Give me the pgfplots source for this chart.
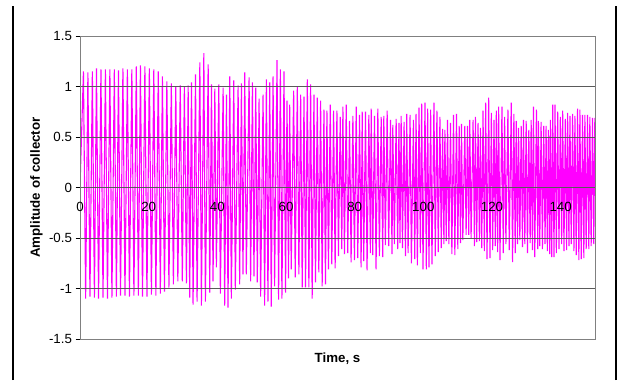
\documentclass[border=0pt]{standalone}
\usepackage{pgfplots}
\pgfplotsset{compat=1.18}
\usepackage{fontspec}
\setmainfont{Liberation Sans}
\definecolor{mag}{RGB}{255,0,255}
\definecolor{gridc}{RGB}{90,90,90}
\definecolor{framec}{RGB}{128,128,128}
\begin{document}
\begin{tikzpicture}
\begin{axis}[
  name=ax,
  width=515pt, height=303pt, scale only axis,
  xmin=0, xmax=150, ymin=-1.5, ymax=1.5,
  axis line style={framec, line width=1pt},
  axis on top=true,
  xtick={0,20,40,60,80,100,120,140},
  xticklabels={0,20,40,60,80,100,120,140},
  ytick={-1.5,-1,-0.5,0,0.5,1,1.5},
  yticklabels={-1.5,-1,-0.5,0,0.5,1,1.5},
  ytick pos=left, xtick pos=bottom,
  ymajorgrids,
  grid style={gridc, line width=1pt},
  tick align=outside,
  major tick length=4.5pt,
  y tick style={black, line width=1pt},
  x tick style={draw=none},
  /pgf/number format/assume math mode=true,
  ticklabel style={font=\fontsize{13.3}{15}\selectfont},
  xticklabel style={yshift=144.5pt},
  xlabel={Time, s},
  xlabel style={at={(axis description cs:0.5,0)}, anchor=center, yshift=-20pt, font=\bfseries\fontsize{13.3}{15}\selectfont},
  ylabel={Amplitude of collector},
  ylabel style={at={(axis description cs:0,0.5)}, anchor=center, yshift=43.5pt, font=\bfseries\fontsize{13.3}{15}\selectfont},
]
\addplot[mag, line width=1.1pt, mark=none] coordinates {
(0,0.00)
(1.0,1.15)(1.64,-1.10)
(2.3,1.14)(2.9,-1.08)
(3.6,1.15)(4.2,-1.09)
(4.8,1.18)(5.4,-1.10)
(6.1,1.17)(6.7,-1.09)
(7.4,1.17)(8.0,-1.10)
(8.7,1.17)(9.3,-1.09)
(10.0,1.17)(10.6,-1.08)
(11.2,1.16)(11.8,-1.07)
(12.5,1.18)(13.1,-1.07)
(13.8,1.17)(14.4,-1.08)
(15.1,1.17)(15.7,-1.07)
(16.4,1.20)(17.0,-1.07)
(17.6,1.21)(18.2,-1.08)
(18.9,1.20)(19.5,-1.08)
(20.2,1.18)(20.8,-1.06)
(21.5,1.17)(22.1,-1.07)
(22.8,1.15)(23.4,-1.05)
(24.0,1.10)(24.6,-1.03)
(25.3,1.05)(25.9,-0.99)
(26.6,1.03)(27.2,-0.96)
(27.9,1.00)(28.5,-0.93)
(29.2,1.01)(29.8,-0.93)
(30.4,1.00)(31.0,-0.95)
(31.5,1.01)(31.95,-1.09)
(32.48,1.04)(32.93,-1.16)
(33.65,1.12)(34.10,-1.13)
(34.91,1.24)(35.36,-1.17)
(36.07,1.33)(36.52,-1.13)
(37.33,1.22)(37.78,-1.04)
(38.30,1.02)(38.75,-0.93)
(39.27,0.98)(39.72,-0.79)
(40.43,1.02)(40.88,-1.05)
(41.69,0.99)(42.14,-1.17)
(42.66,0.92)(43.11,-1.19)
(43.63,1.10)(44.08,-1.10)
(44.79,1.06)(45.24,-1.01)
(46.05,1.01)(46.50,-0.96)
(47.02,1.03)(47.47,-0.86)
(47.99,1.14)(48.44,-0.86)
(49.25,1.09)(49.70,-0.93)
(50.22,1.04)(50.67,-0.88)
(51.19,0.99)(51.64,-0.94)
(52.16,0.88)(52.61,-1.08)
(53.32,0.92)(53.77,-1.17)
(54.29,1.07)(54.74,-1.13)
(55.26,1.04)(55.71,-1.18)
(56.23,1.10)(56.68,-0.98)
(57.39,1.26)(57.84,-1.11)
(58.36,1.17)(58.81,-1.10)
(59.42,1.15)(59.87,-1.04)
(60.29,0.86)(60.74,-0.90)
(61.07,0.82)(61.52,-0.81)
(62.23,0.96)(62.68,-0.89)
(63.30,1.00)(63.75,-0.86)
(64.27,0.92)(64.72,-0.99)
(65.24,0.90)(65.69,-0.99)
(66.21,1.07)(66.66,-0.99)
(67.17,1.02)(67.62,-1.10)
(68.14,0.92)(68.59,-0.94)
(69.11,0.89)(69.56,-0.84)
(70.08,0.86)(70.53,-0.98)
(71.05,0.77)(71.50,-0.96)
(71.92,0.76)(72.37,-0.81)
(72.89,0.82)(73.34,-0.76)
(73.86,0.76)(74.31,-0.80)
(74.83,0.76)(75.28,-0.68)
(75.80,0.70)(76.25,-0.61)
(76.57,0.80)(77.02,-0.66)
(77.54,0.82)(77.99,-0.65)
(78.51,0.66)(78.96,-0.74)
(79.48,0.71)(79.93,-0.72)
(80.45,0.80)(80.90,-0.70)
(81.42,0.72)(81.87,-0.79)
(82.19,0.75)(82.64,-0.73)
(83.16,0.75)(83.61,-0.82)
(84.13,0.72)(84.58,-0.65)
(84.81,0.78)(85.26,-0.67)
(85.78,0.71)(86.23,-0.81)
(86.75,0.78)(87.20,-0.68)
(87.72,0.70)(88.17,-0.69)
(88.49,0.71)(88.94,-0.57)
(89.46,0.76)(89.91,-0.58)
(90.43,0.67)(90.88,-0.66)
(91.11,0.62)(91.56,-0.56)
(92.08,0.68)(92.53,-0.61)
(92.90,0.64)(93.20,-0.55)
(93.53,0.71)(93.92,-0.60)
(94.40,0.65)(94.79,-0.68)
(95.17,0.73)(95.56,-0.65)
(96.14,0.72)(96.52,-0.75)
(97.11,0.67)(97.49,-0.71)
(97.88,0.73)(98.26,-0.77)
(98.75,0.79)(99.13,-0.65)
(99.52,0.83)(99.90,-0.81)
(100.49,0.84)(100.87,-0.81)
(101.26,0.78)(101.64,-0.79)
(102.13,0.77)(102.51,-0.76)
(103.09,0.84)(103.48,-0.68)
(103.96,0.76)(104.35,-0.64)
(104.83,0.70)(105.22,-0.60)
(105.61,0.58)(105.99,-0.56)
(106.28,0.57)(106.67,-0.53)
(107.05,0.67)(107.44,-0.56)
(107.92,0.64)(108.31,-0.66)
(108.79,0.72)(109.18,-0.67)
(109.66,0.73)(110.05,-0.61)
(110.44,0.61)(110.82,-0.55)
(111.11,0.63)(111.50,-0.52)
(112.08,0.61)(112.46,-0.47)
(112.85,0.61)(113.23,-0.47)
(113.53,0.67)(113.91,-0.50)
(114.49,0.67)(114.88,-0.58)
(115.17,0.70)(115.55,-0.54)
(115.94,0.64)(116.33,-0.53)
(116.62,0.59)(117.00,-0.60)
(117.39,0.76)(117.77,-0.63)
(118.16,0.84)(118.55,-0.71)
(119.03,0.89)(119.42,-0.70)
(119.81,0.74)(120.19,-0.62)
(120.58,0.67)(120.96,-0.58)
(121.26,0.76)(121.64,-0.64)
(121.93,0.80)(122.32,-0.72)
(122.90,0.80)(123.28,-0.65)
(123.67,0.70)(124.05,-0.56)
(124.64,0.77)(125.02,-0.62)
(125.60,0.84)(125.99,-0.74)
(126.37,0.73)(126.76,-0.65)
(127.05,0.66)(127.44,-0.56)
(127.73,0.59)(128.11,-0.52)
(128.50,0.61)(128.88,-0.59)
(129.18,0.67)(129.56,-0.56)
(129.95,0.66)(130.33,-0.65)
(130.72,0.57)(131.11,-0.55)
(131.40,0.67)(131.78,-0.62)
(132.07,0.80)(132.46,-0.69)
(132.94,0.77)(133.33,-0.61)
(133.52,0.66)(133.91,-0.58)
(134.30,0.65)(134.68,-0.61)
(135.07,0.61)(135.45,-0.56)
(135.75,0.61)(136.13,-0.63)
(136.42,0.57)(136.81,-0.66)
(137.00,0.67)(137.39,-0.69)
(137.68,0.82)(138.06,-0.69)
(138.35,0.82)(138.74,-0.65)
(139.13,0.75)(139.51,-0.61)
(139.90,0.70)(140.28,-0.56)
(140.58,0.76)(140.96,-0.63)
(141.35,0.68)(141.73,-0.62)
(142.02,0.74)(142.41,-0.58)
(142.70,0.71)(143.08,-0.56)
(143.47,0.73)(143.86,-0.63)
(144.15,0.71)(144.53,-0.67)
(144.92,0.78)(145.30,-0.72)
(145.60,0.77)(145.98,-0.71)
(146.37,0.72)(146.75,-0.70)
(147.05,0.72)(147.43,-0.61)
(147.82,0.72)(148.20,-0.61)
(148.50,0.70)(148.88,-0.58)
(149.27,0.69)(149.65,-0.56)
(149.95,0.69)
};
\draw[black, line width=1pt] (rel axis cs:0,0) -- (rel axis cs:0,1);
\end{axis}
\path ([shift={(-80pt,-41pt)}]ax.south west) rectangle ([shift={(22pt,36pt)}]ax.north east);
\draw[black, line width=1.5pt] ([shift={(-67pt,-41pt)}]ax.south west) -- ([shift={(-67pt,333pt)}]ax.south west);
\draw[black, line width=1.5pt] ([shift={(536pt,-41pt)}]ax.south west) -- ([shift={(536pt,333pt)}]ax.south west);
\end{tikzpicture}
\end{document}
